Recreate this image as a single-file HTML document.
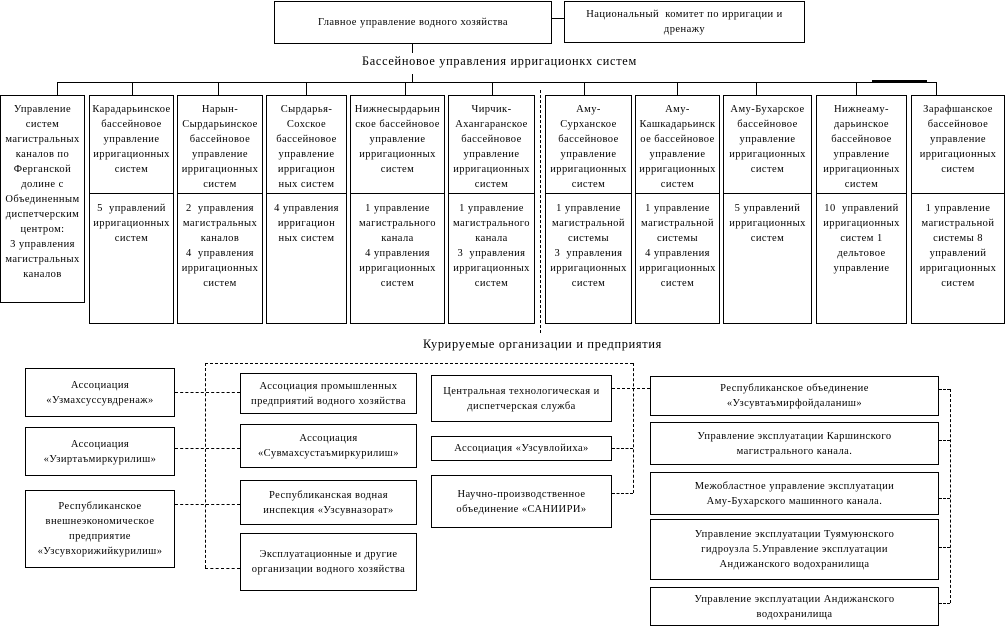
<!DOCTYPE html>
<html><head><meta charset="utf-8"><style>
body{margin:0;width:1006px;height:627px;background:#fff;position:relative;overflow:hidden;font-family:"Liberation Serif","DejaVu Serif",serif;color:#000}
.b{position:absolute;border:1px solid #000;box-sizing:border-box;background:#fff;font-size:10.5px;line-height:15px;text-align:center;letter-spacing:0.45px;white-space:nowrap;overflow:hidden}
.c{display:flex;align-items:center;justify-content:center;flex-direction:column}
.col .t{height:98px;border-bottom:1px solid #000;box-sizing:border-box;padding-top:6px}
.col .u{padding-top:7px}
.l{position:absolute;background:#000}
.dh{position:absolute;border-top:1px dashed #000;height:0}
.dv{position:absolute;border-left:1px dashed #000;width:0}
.lab{position:absolute;font-size:12.3px;white-space:nowrap;letter-spacing:0.7px}
</style></head><body>
<div class="b c" style="left:274px;top:1px;width:278px;height:43px">Главное управление водного хозяйства</div>
<div class="b c" style="left:564px;top:1px;width:241px;height:42px">Национальный&nbsp; комитет по ирригации и<br>дренажу</div>
<div class="l" style="left:552px;top:18px;width:12px;height:1px"></div>
<div class="l" style="left:412px;top:44px;width:1px;height:9px"></div>
<div class="lab" style="left:362px;top:54px">Бассейновое управления ирригационкх систем</div>
<div class="l" style="left:412px;top:74px;width:1px;height:8px"></div>
<div class="l" style="left:57px;top:82px;width:880px;height:1px"></div>
<div class="l" style="left:872px;top:80px;width:55px;height:2px"></div>
<div class="l" style="left:57px;top:82px;width:1px;height:13px"></div>
<div class="l" style="left:132px;top:82px;width:1px;height:13px"></div>
<div class="l" style="left:218px;top:82px;width:1px;height:13px"></div>
<div class="l" style="left:306px;top:82px;width:1px;height:13px"></div>
<div class="l" style="left:405px;top:82px;width:1px;height:13px"></div>
<div class="l" style="left:492px;top:82px;width:1px;height:13px"></div>
<div class="l" style="left:584px;top:82px;width:1px;height:13px"></div>
<div class="l" style="left:677px;top:82px;width:1px;height:13px"></div>
<div class="l" style="left:756px;top:82px;width:1px;height:13px"></div>
<div class="l" style="left:856px;top:82px;width:1px;height:13px"></div>
<div class="l" style="left:936px;top:82px;width:1px;height:13px"></div>
<div class="dv" style="left:540px;top:90px;height:243px"></div>

<div class="b" style="left:0;top:95px;width:85px;height:208px;padding-top:6px">Управление<br>систем<br>магистральных<br>каналов по<br>Ферганской<br>долине с<br>Объединенным<br>диспетчерским<br>центром:<br>3 управления<br>магистральных<br>каналов</div>
<div class="b col" style="left:89px;top:95px;width:85px;height:229px"><div class="t">Карадарьинское<br>бассейновое<br>управление<br>ирригационных<br>систем</div><div class="u">5&nbsp; управлений<br>ирригационных<br>систем</div></div>
<div class="b col" style="left:177px;top:95px;width:86px;height:229px"><div class="t">Нарын-<br>Сырдарьинское<br>бассейновое<br>управление<br>ирригационных<br>систем</div><div class="u">2&nbsp; управления<br>магистральных<br>каналов<br>4&nbsp; управления<br>ирригационных<br>систем</div></div>
<div class="b col" style="left:266px;top:95px;width:81px;height:229px"><div class="t">Сырдарья-<br>Сохское<br>бассейновое<br>управление<br>ирригацион<br>ных систем</div><div class="u">4 управления<br>ирригацион<br>ных систем</div></div>
<div class="b col" style="left:350px;top:95px;width:95px;height:229px"><div class="t">Нижнесырдарьин<br>ское бассейновое<br>управление<br>ирригационных<br>систем</div><div class="u">1 управление<br>магистрального<br>канала<br>4 управления<br>ирригационных<br>систем</div></div>
<div class="b col" style="left:448px;top:95px;width:87px;height:229px"><div class="t">Чирчик-<br>Ахангаранское<br>бассейновое<br>управление<br>ирригационных<br>систем</div><div class="u">1 управление<br>магистрального<br>канала<br>3&nbsp; управления<br>ирригационных<br>систем</div></div>
<div class="b col" style="left:545px;top:95px;width:87px;height:229px"><div class="t">Аму-<br>Сурханское<br>бассейновое<br>управление<br>ирригационных<br>систем</div><div class="u">1 управление<br>магистральной<br>системы<br>3&nbsp; управления<br>ирригационных<br>систем</div></div>
<div class="b col" style="left:635px;top:95px;width:85px;height:229px"><div class="t">Аму-<br>Кашкадарьинск<br>ое бассейновое<br>управление<br>ирригационных<br>систем</div><div class="u">1 управление<br>магистральной<br>системы<br>4 управления<br>ирригационных<br>систем</div></div>
<div class="b col" style="left:723px;top:95px;width:89px;height:229px"><div class="t">Аму-Бухарское<br>бассейновое<br>управление<br>ирригационных<br>систем</div><div class="u">5 управлений<br>ирригационных<br>систем</div></div>
<div class="b col" style="left:816px;top:95px;width:91px;height:229px"><div class="t">Нижнеаму-<br>дарьинское<br>бассейновое<br>управление<br>ирригационных<br>систем</div><div class="u">10&nbsp; управлений<br>ирригационных<br>систем 1<br>дельтовое<br>управление</div></div>
<div class="b col" style="left:911px;top:95px;width:94px;height:229px"><div class="t">Зарафшанское<br>бассейновое<br>управление<br>ирригационных<br>систем</div><div class="u">1 управление<br>магистральной<br>системы 8<br>управлений<br>ирригационных<br>систем</div></div>

<div class="lab" style="left:423px;top:337px">Курируемые организации и предприятия</div>

<div class="b c" style="left:25px;top:368px;width:150px;height:49px">Ассоциация<br>«Узмахсуссувдренаж»</div>
<div class="b c" style="left:25px;top:427px;width:150px;height:49px">Ассоциация<br>«Узиртаъмиркурилиш»</div>
<div class="b c" style="left:25px;top:490px;width:150px;height:78px">Республиканское<br>внешнеэкономическое<br>предприятие<br>«Узсувхорижийкурилиш»</div>

<div class="b c" style="left:240px;top:373px;width:177px;height:41px">Ассоциация промышленных<br>предприятий водного хозяйства</div>
<div class="b c" style="left:240px;top:424px;width:177px;height:44px">Ассоциация<br>«Сувмахсустаъмиркурилиш»</div>
<div class="b c" style="left:240px;top:480px;width:177px;height:45px">Республиканская водная<br>инспекция «Узсувназорат»</div>
<div class="b c" style="left:240px;top:533px;width:177px;height:58px">Эксплуатационные и другие<br>организации водного хозяйства</div>

<div class="b c" style="left:431px;top:375px;width:181px;height:47px">Центральная технологическая и<br>диспетчерская служба</div>
<div class="b c" style="left:431px;top:436px;width:181px;height:25px">Ассоциация «Узсувлойиха»</div>
<div class="b c" style="left:431px;top:475px;width:181px;height:53px">Научно-производственное<br>объединение «САНИИРИ»</div>

<div class="b c" style="left:650px;top:376px;width:289px;height:40px">Республиканское объединение<br>«Узсувтаъмирфойдаланиш»</div>
<div class="b c" style="left:650px;top:422px;width:289px;height:43px">Управление эксплуатации Каршинского<br>магистрального канала.</div>
<div class="b c" style="left:650px;top:472px;width:289px;height:43px">Межобластное управление эксплуатации<br>Аму-Бухарского машинного канала.</div>
<div class="b c" style="left:650px;top:519px;width:289px;height:61px">Управление эксплуатации Туямуюнского<br>гидроузла 5.Управление эксплуатации<br>Андижанского водохранилища</div>
<div class="b c" style="left:650px;top:587px;width:289px;height:39px">Управление эксплуатации Андижанского<br>водохранилища</div>

<div class="dv" style="left:205px;top:363px;height:205px"></div>
<div class="dh" style="left:205px;top:363px;width:428px"></div>
<div class="dh" style="left:175px;top:392px;width:65px"></div>
<div class="dh" style="left:175px;top:448px;width:65px"></div>
<div class="dh" style="left:175px;top:504px;width:65px"></div>
<div class="dh" style="left:205px;top:568px;width:35px"></div>
<div class="dv" style="left:633px;top:363px;height:130px"></div>
<div class="dh" style="left:612px;top:388px;width:38px"></div>
<div class="dh" style="left:612px;top:448px;width:21px"></div>
<div class="dh" style="left:612px;top:493px;width:21px"></div>
<div class="dv" style="left:950px;top:389px;height:214px"></div>
<div class="dh" style="left:939px;top:389px;width:11px"></div>
<div class="dh" style="left:939px;top:440px;width:11px"></div>
<div class="dh" style="left:939px;top:498px;width:11px"></div>
<div class="dh" style="left:939px;top:547px;width:11px"></div>
<div class="dh" style="left:939px;top:603px;width:11px"></div>
</body></html>
